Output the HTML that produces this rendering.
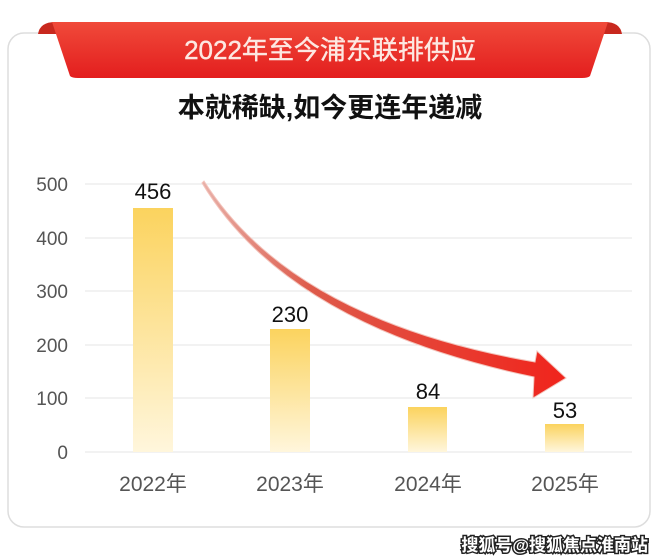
<!DOCTYPE html>
<html><head><meta charset="utf-8"><style>
body{margin:0;background:#fff;}
svg{display:block}
</style></head><body>
<svg width="660" height="559" viewBox="0 0 660 559" xmlns="http://www.w3.org/2000/svg" font-family="Liberation Sans, Noto Sans CJK SC, sans-serif">
<defs>
<linearGradient id="bar" x1="0" y1="0" x2="0" y2="1"><stop offset="0" stop-color="#fbd35e"/><stop offset="1" stop-color="#fff6dc"/></linearGradient>
<linearGradient id="rib" x1="0" y1="0" x2="0" y2="1"><stop offset="0" stop-color="#f04a3a"/><stop offset="1" stop-color="#e31e1e"/></linearGradient>
<linearGradient id="arr" x1="0" y1="0" x2="1" y2="0"><stop offset="0" stop-color="#e8b0a8"/><stop offset="0.3" stop-color="#de5a4a"/><stop offset="1" stop-color="#f0241c"/></linearGradient>
</defs>
<rect x="0" y="0" width="660" height="559" fill="#fff"/>
<rect x="8" y="33" width="642" height="494" rx="16" fill="#fff" stroke="#ddd" stroke-width="1.5"/>
<path d="M38,34 Q40,22 55,22 L605,22 Q620,22 622,34 Z" fill="#c8281e"/>
<path d="M52,22 L608,22 L590,76 Q588,78 582,78 L78,78 Q72,78 70,76 Z" fill="url(#rib)"/>
<text x="330" y="59" text-anchor="middle" font-size="26" fill="#fde8e2" stroke="#fde8e2" stroke-width="0.4">2022年至今浦东联排供应</text>
<text x="330" y="117" text-anchor="middle" font-size="27" font-weight="bold" fill="#111">本就稀缺,如今更连年递减</text>
<g stroke="#e4e4e4" stroke-width="1">
<line x1="85" y1="184" x2="632" y2="184"/><line x1="85" y1="238" x2="632" y2="238"/><line x1="85" y1="291" x2="632" y2="291"/><line x1="85" y1="345" x2="632" y2="345"/><line x1="85" y1="398" x2="632" y2="398"/><line x1="85" y1="452" x2="632" y2="452"/>
</g>
<g font-size="19" fill="#555" text-anchor="end">
<text x="68" y="191">500</text><text x="68" y="245">400</text><text x="68" y="298">300</text><text x="68" y="352">200</text><text x="68" y="405">100</text><text x="68" y="459">0</text>
</g>
<rect x="133" y="208" width="40" height="244" fill="url(#bar)"/>
<rect x="270" y="329" width="40" height="123" fill="url(#bar)"/>
<rect x="408" y="407" width="39" height="45" fill="url(#bar)"/>
<rect x="545" y="424" width="39" height="28" fill="url(#bar)"/>
<g font-size="22" fill="#111" text-anchor="middle">
<text x="153" y="199">456</text><text x="290" y="322">230</text><text x="428" y="399">84</text><text x="565" y="418">53</text>
</g>
<g font-size="21" fill="#555" text-anchor="middle">
<text x="153" y="491">2022年</text><text x="290" y="491">2023年</text><text x="428" y="491">2024年</text><text x="565" y="491">2025年</text>
</g>
<path d="M204,181 Q292,320 535,362 L537,351 L566,378 L533,398 L534,377 Q288,326 202,183 Z" fill="url(#arr)" stroke="#f3c4bc" stroke-width="1"/>
<text x="648" y="551" text-anchor="end" font-size="17" font-weight="bold" fill="#fff" stroke="#222" stroke-width="3" paint-order="stroke">搜狐号@搜狐焦点淮南站</text>
</svg>
</body></html>
